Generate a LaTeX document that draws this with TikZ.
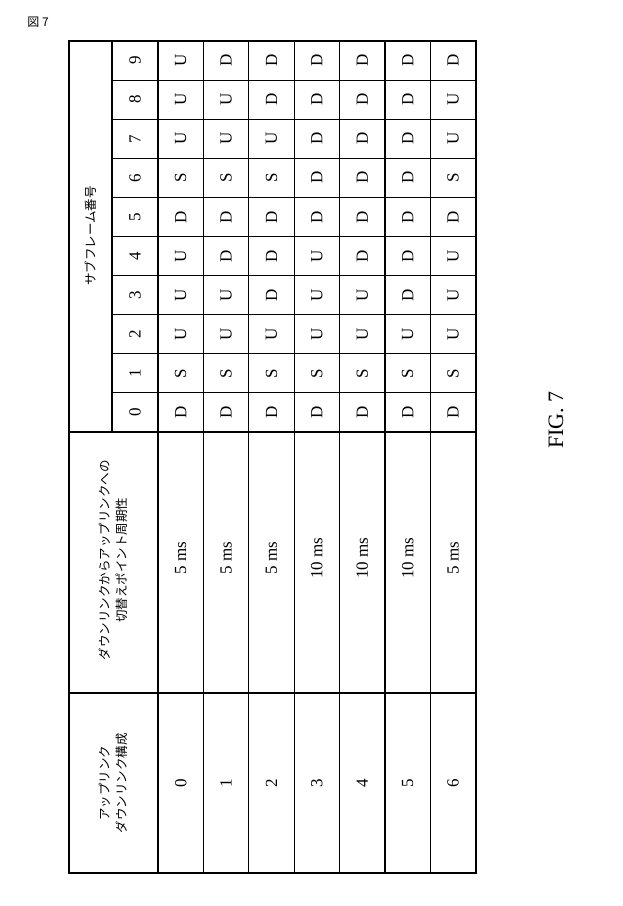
\documentclass[tikz,border=0pt]{standalone}
\usepackage{fontspec}
\setmainfont{Liberation Serif}
\newfontfamily\jpfont{Noto Sans CJK JP}
\begin{document}
\begin{tikzpicture}[x=1pt, y=-1pt, line width=1.1pt,
  cell/.style={rotate=90, font=\fontsize{17}{17}\selectfont},
  head/.style={rotate=90, align=center, font=\jpfont\fontsize{12.5}{17}\selectfont}]
\useasboundingbox (0,0) rectangle (622,906);
\def\rw{45.4}
\def\sw{39.1}
% outer frame and main lines
\draw (69,41) rectangle (476,873);
\draw (158,41) -- (158,873);
\draw (112,41) -- (112,432);
\draw (69,432) -- (476,432);
\draw (69,693) -- (476,693);
\foreach \i in {1,...,6}
  \draw (158+\i*\rw,41) -- (158+\i*\rw,873);
\foreach \j in {1,...,9}
  \draw (112,432-\j*\sw) -- (476,432-\j*\sw);
% headers
\node[head] (hcfg) at (113,783) {アップリンク\\ダウンリンク構成};
\node[head] (hper) at (113,560) {ダウンリンクからアップリンクへの\\切替えポイント周期性};
\node[head] (hsub) at (91,236) {サブフレーム番号};
\foreach \j in {0,...,9}
  \node[cell] (sf\j) at (135,432-\j*\sw-\sw/2) {\j};
% rows
\foreach \p [count=\i from 0] in {5,5,5,10,10,10,5}{
  \node[cell] (cfg\i) at (158+\i*\rw+\rw/2,783) {\i};
  \node[cell] (per\i) at (158+\i*\rw+\rw/2,558) {\p\ ms};
}
\foreach \row [count=\i from 0] in {{D,S,U,U,U,D,S,U,U,U},{D,S,U,U,D,D,S,U,U,D},{D,S,U,D,D,D,S,U,D,D},{D,S,U,U,U,D,D,D,D,D},{D,S,U,U,D,D,D,D,D,D},{D,S,U,D,D,D,D,D,D,D},{D,S,U,U,U,D,S,U,U,D}}{
  \foreach \ch [count=\j from 0] in \row
    \node[cell] (c\i-\j) at (158+\i*\rw+\rw/2,432-\j*\sw-\sw/2) {\ch};
}
\node[font=\jpfont\fontsize{12}{12}\selectfont] (fig) at (38,22) {図 7};
\node[rotate=90, font=\fontsize{22}{22}\selectfont] (cap) at (556,420) {FIG. 7};
\end{tikzpicture}
\end{document}
